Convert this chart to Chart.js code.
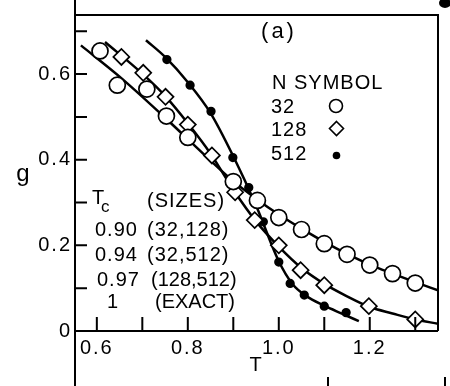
<!DOCTYPE html>
<html><head><meta charset="utf-8">
<script src="https://cdn.jsdelivr.net/npm/chart.js@4.4.0/dist/chart.umd.min.js"></script>
<style>html,body{margin:0;padding:0;background:#fff;overflow:hidden}canvas{display:block}</style>
</head><body>
<canvas id="c" width="450" height="386"></canvas>
<script>
// ---- data ----
const t32  = [0.607, 0.645, 0.71, 0.753, 0.80, 0.90, 0.953, 1.00, 1.05, 1.10, 1.15, 1.20, 1.25, 1.30];
const g32  = [0.654, 0.574, 0.565, 0.502, 0.452, 0.349, 0.305, 0.265, 0.237, 0.204, 0.179, 0.154, 0.134, 0.112];
const t128 = [0.654, 0.702, 0.751, 0.80, 0.853, 0.904, 0.947, 1.00, 1.048, 1.10, 1.198, 1.30];
const g128 = [0.640, 0.603, 0.547, 0.482, 0.410, 0.324, 0.259, 0.200, 0.142, 0.107, 0.058, 0.027];
const t512 = [0.754, 0.805, 0.851, 0.899, 0.934, 0.966, 1.00, 1.025, 1.056, 1.10, 1.148];
const g512 = [0.634, 0.574, 0.513, 0.405, 0.335, 0.255, 0.161, 0.111, 0.084, 0.058, 0.043];

// fitted curves
const fit32T  = [0.565, 0.65, 0.75, 0.85, 0.90, 0.95, 1.00, 1.05, 1.10, 1.15, 1.20, 1.25, 1.30, 1.35];
const fit32G  = [0.667, 0.594, 0.498, 0.398, 0.350, 0.309, 0.272, 0.239, 0.208, 0.180, 0.155, 0.134, 0.114, 0.095];
const fit128T = [0.618, 0.70, 0.75, 0.80, 0.85, 0.90, 0.95, 1.00, 1.05, 1.10, 1.15, 1.20, 1.25, 1.30, 1.35];
const fit128G = [0.675, 0.601, 0.549, 0.485, 0.414, 0.330, 0.256, 0.197, 0.147, 0.110, 0.081, 0.056, 0.041, 0.027, 0.017];
const fit512T = [0.708, 0.75, 0.80, 0.85, 0.90, 0.95, 1.00, 1.03, 1.06, 1.10, 1.14, 1.176];
const fit512G = [0.679, 0.640, 0.581, 0.509, 0.408, 0.293, 0.163, 0.110, 0.082, 0.059, 0.040, 0.023];

// axes
const xTickValues = [0.6, 0.8, 1.0, 1.2];
const xTickLabels = ['0.6', '0.8', '1.0', '1.2'];
const xMinorTicks = [0.7, 0.9, 1.1, 1.3];
const yTickValues = [0, 0.2, 0.4, 0.6];
const yTickLabels = ['0', '0.2', '0.4', '0.6'];
const yMinorTicks = [0.1, 0.3, 0.5, 0.7];

// annotation texts
const legendSizes = ['32', '128', '512'];
const tcValues = ['0.90', '0.94', '0.97', '1'];
const tcSizes  = ['(32,128)', '(32,512)', '(128,512)', '(EXACT)'];

const FONT = '"Liberation Sans", Arial, sans-serif';
const pts = (xs, ys) => xs.map((x, i) => ({x, y: ys[i]}));

const deco = {
  id: 'deco',
  beforeDraw(chart) { chart.ctx.letterSpacing = '2px'; },
  afterDraw(chart) {
    const ctx = chart.ctx, a = chart.chartArea, xs = chart.scales.x, ys = chart.scales.y;
    ctx.save();
    ctx.strokeStyle = '#000'; ctx.fillStyle = '#000'; ctx.lineWidth = 2; ctx.lineCap = 'butt';
    ctx.beginPath();
    ctx.moveTo(a.left, 0); ctx.lineTo(a.left, chart.height);
    ctx.moveTo(a.left, a.top); ctx.lineTo(a.right, a.top); ctx.lineTo(a.right, a.bottom);
    ctx.moveTo(a.left, a.bottom); ctx.lineTo(a.right, a.bottom);
    ctx.stroke();
    ctx.beginPath();
    [...xTickValues, ...xMinorTicks].forEach(v => { const px = xs.getPixelForValue(v); ctx.moveTo(px, a.bottom); ctx.lineTo(px, a.bottom - 14); });
    [...yTickValues.filter(v => v > 0), ...yMinorTicks].forEach(v => { const py = ys.getPixelForValue(v); ctx.moveTo(a.left, py); ctx.lineTo(a.left + 12, py); });
    ctx.stroke();
    // edge marks of the cropped page
    ctx.beginPath();
    ctx.moveTo(328, 377); ctx.lineTo(328, 386);
    ctx.moveTo(445, 377); ctx.lineTo(445, 386);
    ctx.stroke();
    ctx.beginPath(); ctx.ellipse(445, 3, 6, 5, 0, 0, Math.PI * 2); ctx.fill();

    // texts
    ctx.textBaseline = 'middle';
    const txt = (s, x, y, size = 20, align = 'left') => {
      ctx.font = size + 'px ' + FONT; ctx.textAlign = align; ctx.fillText(s, x, y);
    };
    ctx.letterSpacing = '3px';
    txt('(a)', 279, 32, 22, 'center');
    ctx.letterSpacing = '1px';
    txt('N SYMBOL', 272, 83);
    const ly = [107.5, 130.5, 154];
    legendSizes.forEach((s, i) => txt(s, 271, ly[i]));
    // legend symbols
    ctx.lineWidth = 1.6;
    ctx.beginPath(); ctx.arc(336, 106, 6.5, 0, Math.PI * 2); ctx.stroke();
    ctx.beginPath(); ctx.moveTo(336.5, 121.5); ctx.lineTo(343.5, 128.5); ctx.lineTo(336.5, 135.5); ctx.lineTo(329.5, 128.5); ctx.closePath(); ctx.stroke();
    ctx.beginPath(); ctx.arc(336.5, 155.5, 3.8, 0, Math.PI * 2); ctx.fill();

    txt('T', 92, 198);
    txt('c', 101, 207, 17);
    txt('(SIZES)', 147, 201);
    const ry = [230, 255, 280, 302];
    const vx = [95, 95, 97, 107];
    const sx = [147, 147, 151, 155];
    const sp = ['1px', '1px', '0px', '0px'];
    tcValues.forEach((s, i) => {
      ctx.letterSpacing = '1px'; txt(s, vx[i], ry[i]);
      ctx.letterSpacing = sp[i]; txt(tcSizes[i], sx[i], ry[i]);
    });
    ctx.textBaseline = 'alphabetic';
    ctx.letterSpacing = '0px';
    txt('g', 23, 181, 24, 'center');
    ctx.restore();
  }
};

Chart.defaults.font.family = FONT;
Chart.defaults.font.size = 20;
Chart.defaults.color = '#000';

const lineDs = (xs, ys) => ({
  data: pts(xs, ys), showLine: true, pointRadius: 0, borderColor: '#000', borderWidth: 2.5,
  cubicInterpolationMode: 'monotone', fill: false, order: 5
});
const markDs = (xs, ys, style, r, bg) => ({
  data: pts(xs, ys), showLine: false, pointStyle: style, pointRadius: r,
  pointBackgroundColor: bg, pointBorderColor: '#000', pointBorderWidth: 1.7, order: 1
});

new Chart(document.getElementById('c'), {
  type: 'scatter',
  data: {
    datasets: [
      lineDs(fit32T, fit32G),
      lineDs(fit128T, fit128G),
      lineDs(fit512T, fit512G),
      markDs(t32, g32, 'circle', 8, '#fff'),
      markDs(t128, g128, 'rectRot', 8, '#fff'),
      markDs(t512, g512, 'circle', 3.8, '#000')
    ]
  },
  options: {
    responsive: false, devicePixelRatio: 1, animation: false,
    layout: { padding: { top: 15, right: 12, left: 0, bottom: 0 } },
    plugins: { legend: { display: false }, tooltip: { enabled: false } },
    scales: {
      x: {
        type: 'linear', min: 0.552, max: 1.35, position: 'bottom',
        grid: { display: false, drawTicks: false }, border: { display: false },
        ticks: { padding: 5, maxRotation: 0, autoSkip: false,
          callback: v => { const i = xTickValues.findIndex(t => Math.abs(t - v) < 1e-9); return i >= 0 ? xTickLabels[i] : ''; } },
        afterBuildTicks: s => { s.ticks = xTickValues.map(v => ({value: v})); },
        title: { display: true, text: 'T', padding: { top: 0, bottom: 9 } },
        afterFit: s => { s.height = 55; s.paddingLeft = 0; s.paddingRight = 0; }
      },
      y: {
        type: 'linear', min: 0, max: 0.738, position: 'left',
        grid: { display: false, drawTicks: false }, border: { display: false },
        ticks: { padding: 3,
          callback: v => { const i = yTickValues.findIndex(t => Math.abs(t - v) < 1e-9); return i >= 0 ? yTickLabels[i] : ''; } },
        afterBuildTicks: s => { s.ticks = yTickValues.map(v => ({value: v})); },
        afterFit: s => { s.width = 75; s.paddingTop = 0; s.paddingBottom = 0; }
      }
    }
  },
  plugins: [deco]
});
</script>
</body></html>
